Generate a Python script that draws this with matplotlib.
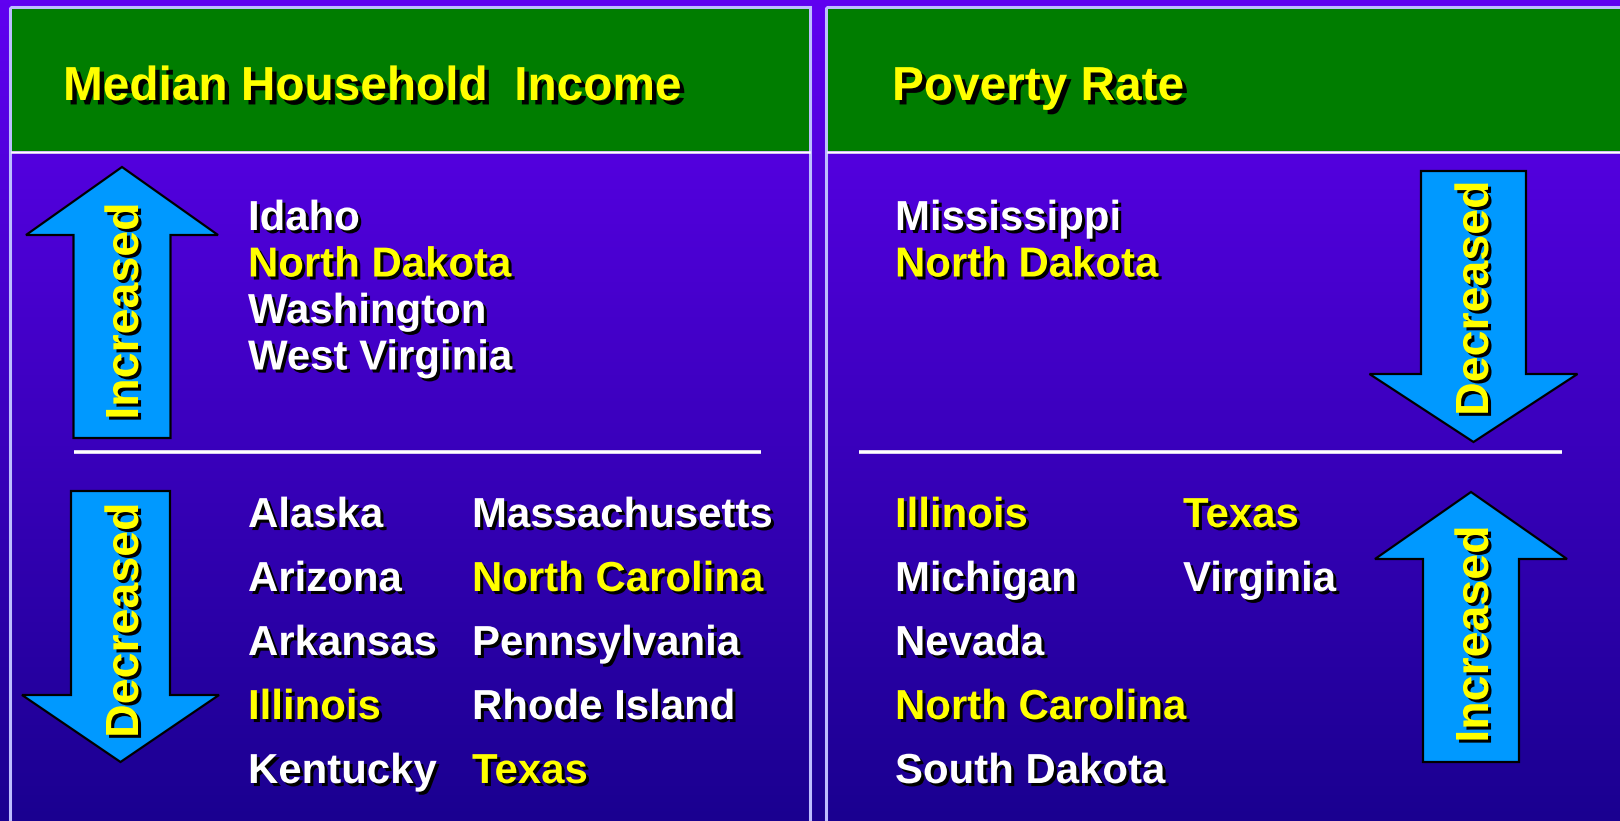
import numpy as np
import matplotlib.pyplot as plt
import matplotlib.patheffects as pe
from matplotlib.patches import Polygon, Rectangle

W, H = 1620, 821

# titles
titles = ["Median Household  Income", "Poverty Rate"]

# lists of states, and which of them are highlighted in yellow
income_up = ["Idaho", "North Dakota", "Washington", "West Virginia"]
income_up_hl = [0, 1, 0, 0]
income_down_1 = ["Alaska", "Arizona", "Arkansas", "Illinois", "Kentucky"]
income_down_1_hl = [0, 0, 0, 1, 0]
income_down_2 = ["Massachusetts", "North Carolina", "Pennsylvania", "Rhode Island", "Texas"]
income_down_2_hl = [0, 1, 0, 0, 1]

poverty_down = ["Mississippi", "North Dakota"]
poverty_down_hl = [0, 1]
poverty_up_1 = ["Illinois", "Michigan", "Nevada", "North Carolina", "South Dakota"]
poverty_up_1_hl = [1, 0, 0, 1, 0]
poverty_up_2 = ["Texas", "Virginia"]
poverty_up_2_hl = [1, 0]

YEL = "#FFFF00"
WHT = "#FFFFFF"
BLUE = "#0099FF"
GREEN = "#007D00"
FRAME = "#BDBDFF"
FONT = "Liberation Sans"

fig = plt.figure(figsize=(W / 100, H / 100), dpi=100)
ax = fig.add_axes([0, 0, 1, 1])
ax.set_xlim(0, W)
ax.set_ylim(H, 0)
ax.axis("off")

# background gradient (top bright violet -> bottom dark blue)
top = np.array([0x60, 0x00, 0xF0]) / 255
bot = np.array([0x1A, 0x00, 0x90]) / 255
t = np.linspace(0, 1, 256)[:, None, None]
grad = top * (1 - t) + bot * t
ax.imshow(grad, extent=[0, W, H, 0], aspect="auto", origin="upper", zorder=0)

shadow_small = [pe.withSimplePatchShadow(offset=(2.2, -2.2), shadow_rgbFace="black", alpha=1.0)]
shadow_big = [pe.withSimplePatchShadow(offset=(3.2, -3.2), shadow_rgbFace="black", alpha=1.0)]


def panel(x0, x1, title, tx):
    ax.add_patch(Rectangle((x0, 7), x1 - x0, H, fill=False, ec=FRAME, lw=2.2, zorder=2))
    ax.add_patch(Rectangle((x0 + 1.5, 9), x1 - x0 - 3, 142, fc=GREEN, ec="none", zorder=2))
    ax.plot([x0 + 1.5, x1 - 1.5], [152.5, 152.5], color="white", lw=1.8, zorder=3)
    ax.text(tx, 100, title, color=YEL, fontsize=34.4, fontfamily=FONT, fontweight="bold",
            va="baseline", ha="left", path_effects=shadow_big, zorder=5)


def arrow(cx, shaft_w, head_w, tip_y, base_y, tail_y, label, tx, ty):
    pts = [(cx - shaft_w, tail_y), (cx - shaft_w, base_y), (cx - head_w, base_y), (cx, tip_y),
           (cx + head_w, base_y), (cx + shaft_w, base_y), (cx + shaft_w, tail_y)]
    ax.add_patch(Polygon(pts, closed=True, fc=BLUE, ec="black", lw=1.6, zorder=4))
    # rotated label, anchored on its baseline
    ax.text(tx, ty, label, color=YEL, fontsize=33.5, fontfamily=FONT, fontweight="bold",
            rotation=90, ha="center", va="baseline", rotation_mode="anchor",
            path_effects=shadow_small, zorder=5)


def state_list(x, y0, step, names, hl):
    for i, (name, h) in enumerate(zip(names, hl)):
        ax.text(x, y0 + i * step, name, color=YEL if h else WHT, fontsize=30.2,
                fontfamily=FONT, fontweight="bold", va="baseline", ha="left",
                path_effects=shadow_small, zorder=5)


panel(10, 810, titles[0], 63)
panel(826, W + 10, titles[1], 892)

# separators
ax.plot([74, 761], [452, 452], color="white", lw=2.6, zorder=3, solid_capstyle="butt")
ax.plot([859, 1562], [452, 452], color="white", lw=2.6, zorder=3, solid_capstyle="butt")

# arrows
arrow(122, 48.5, 96, 167, 235, 438, "Increased", 138, 311)
arrow(120.5, 49.5, 98.5, 762, 695, 491, "Decreased", 138, 620)
arrow(1473.5, 52.5, 104, 442, 374, 171, "Decreased", 1488, 298)
arrow(1471, 48, 96, 492, 559, 762, "Increased", 1488, 634)

# state names
state_list(248, 230, 46.5, income_up, income_up_hl)
state_list(248, 527, 64, income_down_1, income_down_1_hl)
state_list(472, 527, 64, income_down_2, income_down_2_hl)
state_list(895, 230, 46.5, poverty_down, poverty_down_hl)
state_list(895, 527, 64, poverty_up_1, poverty_up_1_hl)
state_list(1183, 527, 64, poverty_up_2, poverty_up_2_hl)

fig.savefig("out.png", dpi=100)
